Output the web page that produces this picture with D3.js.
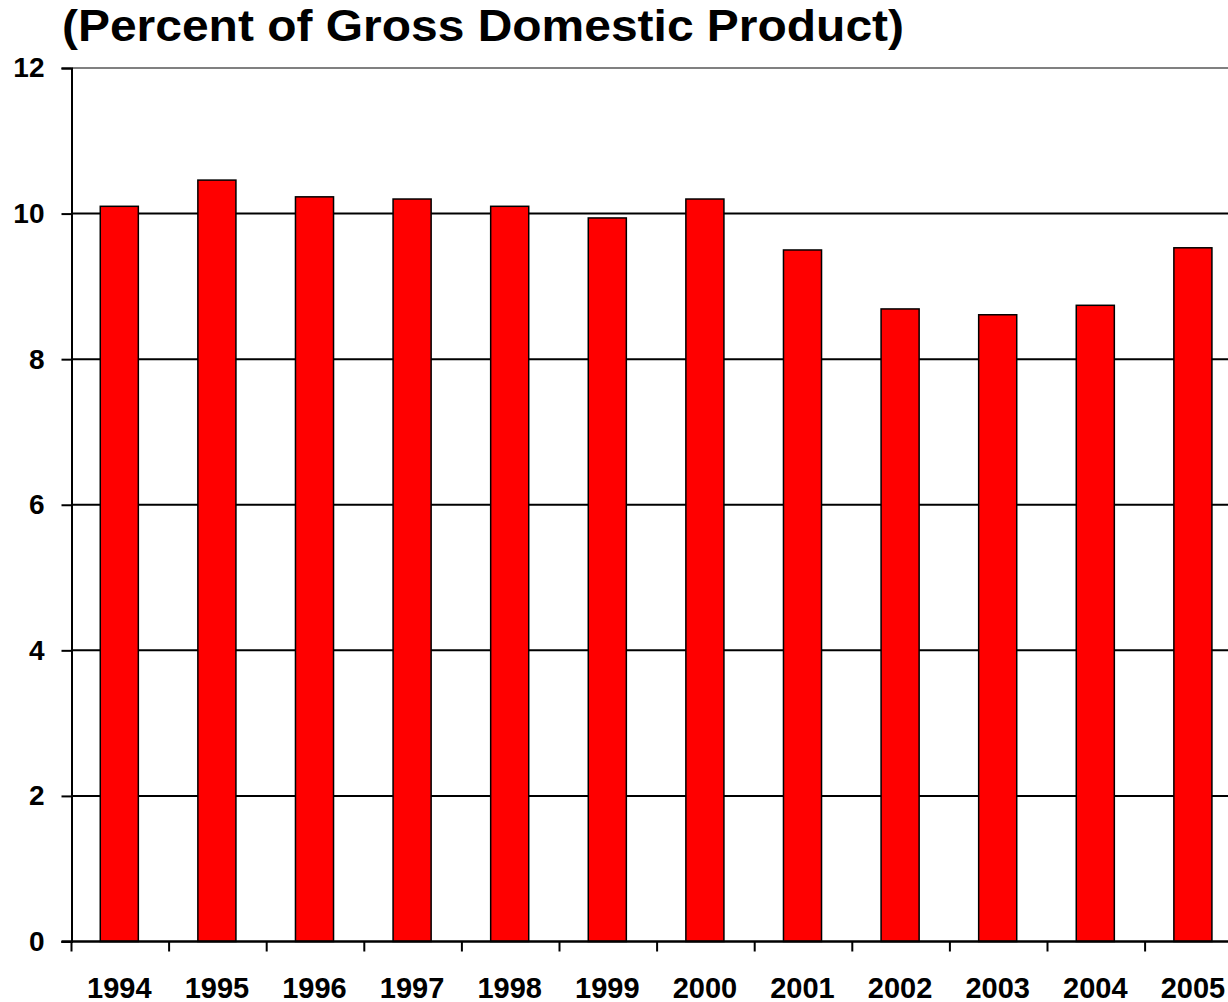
<!DOCTYPE html>
<html>
<head>
<meta charset="utf-8">
<script src="https://cdn.jsdelivr.net/npm/d3@7"></script>
<style>
  body { margin: 0; background: #fff; overflow: hidden; }
  svg { display: block; font-family: "Liberation Sans", Arial, sans-serif; font-weight: bold; }
</style>
</head>
<body>
<div id="chart"></div>
<script>
const years = ['1994', '1995', '1996', '1997', '1998', '1999', '2000', '2001', '2002', '2003', '2004', '2005']
const values = [10.1, 10.46, 10.23, 10.2, 10.1, 9.94, 10.2, 9.5, 8.69, 8.61, 8.74, 9.53]
const yTicks = [0, 2, 4, 6, 8, 10, 12]

const W = 1228
const H = 1002
const plotLeft = 71.5
const plotTop = 68
const plotBottom = 941.5
const step = 97.6

const svg = d3.select('#chart').append('svg').attr('width', W).attr('height', H)

const x = d3.scaleBand(years, [plotLeft, plotLeft + step * years.length]).paddingInner(0.61).paddingOuter(0.305)
const y = d3.scaleLinear([0, 12], [plotBottom, plotTop])
const gap = (x.step() - x.bandwidth()) / 2

// title
svg.append('text')
  .attr('x', 62)
  .attr('y', 41)
  .attr('font-size', 44)
  .attr('textLength', 842)
  .attr('lengthAdjust', 'spacingAndGlyphs')
  .text('(Percent of Gross Domestic Product)')

// gridlines
svg.append('g')
  .selectAll('line')
  .data(yTicks.filter((t) => t > 0))
  .enter()
  .append('line')
  .attr('x1', plotLeft)
  .attr('x2', W)
  .attr('y1', (d) => y(d))
  .attr('y2', (d) => y(d))
  .attr('stroke', (d) => (d === 12 ? '#808080' : '#000'))
  .attr('stroke-width', 2)

// bars
svg.append('g')
  .selectAll('rect')
  .data(values)
  .enter()
  .append('rect')
  .attr('x', (d, i) => x(years[i]) - 1)
  .attr('width', x.bandwidth())
  .attr('y', (d) => y(d))
  .attr('height', (d) => y(0) - y(d))
  .attr('fill', '#ff0000')
  .attr('stroke', '#000')
  .attr('stroke-width', 1.5)

// y axis
const yAxis = svg.append('g')
  .attr('transform', `translate(${plotLeft},0)`)
  .call(d3.axisLeft(y).tickValues(yTicks).tickSize(10).tickPadding(17))
yAxis.attr('font-size', 28).attr('font-family', null)
yAxis.select('.domain').attr('stroke-width', 2)
yAxis.selectAll('.tick line').attr('stroke-width', 2)
yAxis.selectAll('text').attr('font-weight', 'bold')

// x axis: ticks between bars
const xAxis = svg.append('g')
  .attr('transform', `translate(0,${plotBottom})`)
xAxis.append('line')
  .attr('x1', plotLeft - 10)
  .attr('x2', W)
  .attr('stroke', '#000')
  .attr('stroke-width', 2.5)
xAxis.selectAll('line.tk')
  .data(years)
  .enter()
  .append('line')
  .attr('class', 'tk')
  .attr('x1', (d) => x(d) - gap)
  .attr('x2', (d) => x(d) - gap)
  .attr('y1', 0)
  .attr('y2', 10)
  .attr('stroke', '#000')
  .attr('stroke-width', 2)
xAxis.selectAll('text')
  .data(years)
  .enter()
  .append('text')
  .attr('x', (d) => x(d) + x.bandwidth() / 2 - 1)
  .attr('y', 56.5)
  .attr('text-anchor', 'middle')
  .attr('font-size', 29)
  .text((d) => d)
</script>
</body>
</html>
